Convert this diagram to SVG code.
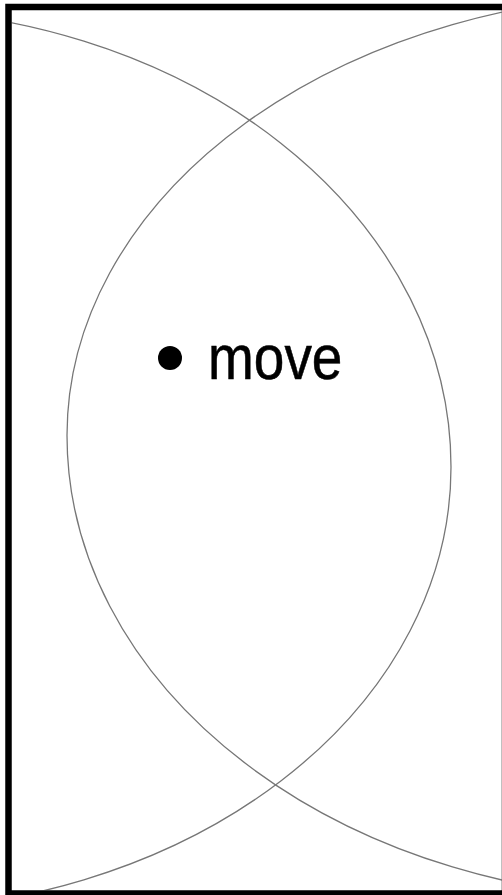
<svg xmlns="http://www.w3.org/2000/svg" width="502" height="895" viewBox="0 0 502 895">
<style>
.frame{fill:none;stroke:#000;stroke-width:6.5}
.arc{fill:none;stroke:#777;stroke-width:1.3}
.label{font-family:"Liberation Sans",Arial,sans-serif;font-size:55px;fill:#000;stroke:#000;stroke-width:0.5}
</style>
<defs>
<clipPath id="inside"><rect x="11.75" y="10.25" width="490" height="880"/></clipPath>
</defs>
<rect x="0" y="0" width="502" height="895" fill="#fff"/>
<g id="shapes" clip-path="url(#inside)">
<path id="left-shape" class="arc" d="M -130 9 A 581 458 0 0 1 451 467 A 581 444 0 0 1 -130 911"/>
<path id="right-shape" class="arc" d="M 677 -6.5 A 610 442 0 0 0 67 435.5 A 610 464 0 0 0 677 899.5"/>
</g>
<g id="frame"><rect class="frame" x="8.5" y="7" width="496.5" height="886.5"/></g>
<g id="move-node">
<circle cx="170" cy="358" r="12" fill="#000"/>
<text class="label" transform="translate(208,379) scale(1,1.15)">move</text>
</g>
</svg>
